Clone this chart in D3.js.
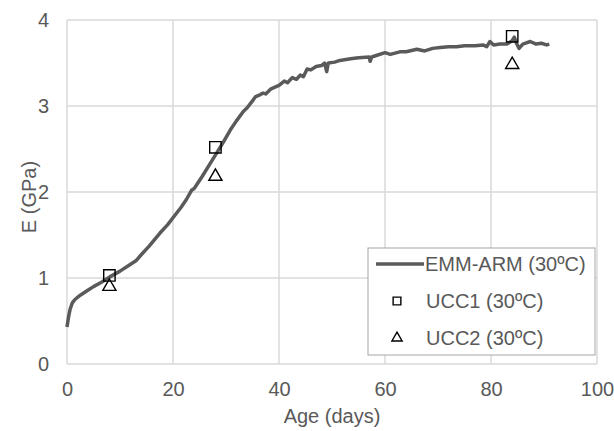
<!DOCTYPE html>
<html>
<head>
<meta charset="utf-8">
<script src="https://cdn.jsdelivr.net/npm/d3@7"></script>
<style>
    body { margin: 0; background: #fff; }
    #chart-area { width: 614px; height: 431px; }
    text { font-family: "Liberation Sans", Arial, sans-serif; fill: #595959; }
</style>
</head>
<body>
<div id="chart-area"></div>
<script>

// EMM-ARM curve
let emmDays = [0, 0.3, 0.6, 1.0, 1.5, 2.5, 4, 5, 6.5, 8, 10, 12, 13, 14, 15.5, 17.5, 19, 20, 21.5, 22.5,
    23.5, 24, 25.5, 27, 28.2, 29.5, 30.8, 32, 33.3, 34, 35, 35.6, 36.4, 37, 37.5, 38.5, 40, 41, 41.6, 42.5,
    43.3, 44, 44.6, 45.3, 46, 47, 48, 48.6, 49.0, 49.3, 50.5, 51.5, 53.5, 55, 57, 57.2, 57.5, 58.5, 60, 61,
    62.8, 64, 66, 67.5, 69, 70.4, 72, 73.5, 75, 77, 78.5, 79.2, 79.8, 80.5, 81.7, 83, 84.0, 84.4, 84.8, 85.3,
    86, 87.4, 88.5, 89.5, 90.5, 91];
let emmE = [0.43, 0.55, 0.64, 0.71, 0.75, 0.80, 0.86, 0.90, 0.95, 1.01, 1.08, 1.16, 1.20, 1.27, 1.37, 1.52, 1.62, 1.70, 1.82, 1.91,
    2.02, 2.04, 2.18, 2.33, 2.45, 2.58, 2.72, 2.83, 2.94, 2.98, 3.06, 3.11, 3.13, 3.15, 3.14, 3.20, 3.24, 3.29, 3.27, 3.33,
    3.31, 3.36, 3.34, 3.43, 3.42, 3.46, 3.47, 3.50, 3.40, 3.50, 3.51, 3.53, 3.55, 3.56, 3.57, 3.52, 3.57, 3.59, 3.62, 3.60,
    3.63, 3.63, 3.66, 3.64, 3.67, 3.68, 3.69, 3.69, 3.70, 3.70, 3.71, 3.69, 3.75, 3.71, 3.72, 3.72, 3.76, 3.80, 3.73, 3.67,
    3.72, 3.75, 3.72, 3.73, 3.71, 3.72];

// UCC test points
let uccDays = [8, 28, 84];
let ucc1E = [1.03, 2.52, 3.81];
let ucc2E = [0.90, 2.18, 3.48];

let xTicks = [0, 20, 40, 60, 80, 100];
let yTicks = [0, 1, 2, 3, 4];

let legendLabels = ["EMM-ARM (30ºC)", "UCC1 (30ºC)", "UCC2 (30ºC)"];


class LineChart {

    constructor(parentElement) {
        this.parentElement = parentElement;
        this.lineColor = '#5a5a5a';
        this.gridColor = '#d9d9d9';
        this.fontSize = '20px';

        this.initVis()
    }

    initVis() {
        let vis = this;

        // margin conventions
        vis.margin = {top: 20, right: 17, bottom: 67, left: 67};
        vis.width = 614 - vis.margin.left - vis.margin.right;
        vis.height = 431 - vis.margin.top - vis.margin.bottom;

        vis.svg = d3.select("#" + vis.parentElement).append("svg")
            .attr("width", 614)
            .attr("height", 431)
            .append("g")
            .attr("transform", "translate(" + vis.margin.left + "," + vis.margin.top + ")");

        vis.x = d3.scaleLinear().domain([0, 100]).range([0, vis.width]);
        vis.y = d3.scaleLinear().domain([0, 4]).range([vis.height, 0]);

        // grid lines
        vis.svg.append('g')
            .attr('class', 'grid')
            .selectAll('line.v')
            .data(xTicks)
            .enter().append('line')
            .attr('x1', d => vis.x(d)).attr('x2', d => vis.x(d))
            .attr('y1', 0).attr('y2', vis.height)
            .attr('stroke', vis.gridColor)
            .attr('stroke-width', 1.5);

        vis.svg.append('g')
            .attr('class', 'grid')
            .selectAll('line.h')
            .data(yTicks)
            .enter().append('line')
            .attr('x1', 0).attr('x2', vis.width)
            .attr('y1', d => vis.y(d)).attr('y2', d => vis.y(d))
            .attr('stroke', vis.gridColor)
            .attr('stroke-width', 1.5);

        // axes (labels only, lines are the grid)
        let xAxis = d3.axisBottom(vis.x).tickValues(xTicks).tickSize(0).tickPadding(18).tickFormat(d3.format('d'));
        let yAxis = d3.axisLeft(vis.y).tickValues(yTicks).tickSize(0).tickPadding(18).tickFormat(d3.format('d'));

        vis.svg.append('g')
            .attr('class', 'x-axis')
            .attr('transform', `translate(0, ${vis.height})`)
            .call(xAxis)
            .call(g => g.select('.domain').remove())
            .selectAll('text')
            .style('font-size', vis.fontSize)
            .style('fill', '#595959');

        vis.svg.append('g')
            .attr('class', 'y-axis')
            .call(yAxis)
            .call(g => g.select('.domain').remove())
            .selectAll('text')
            .style('font-size', vis.fontSize)
            .style('fill', '#595959');

        // axis titles
        vis.svg.append('text')
            .attr('x', vis.width / 2)
            .attr('y', vis.height + 59)
            .attr('text-anchor', 'middle')
            .style('font-size', vis.fontSize)
            .text('Age (days)');

        vis.svg.append('text')
            .attr('transform', `translate(${-31}, ${vis.height / 2 + 5}) rotate(-90)`)
            .attr('text-anchor', 'middle')
            .style('font-size', vis.fontSize)
            .text('E (GPa)');

        vis.wrangleData();
    }

    wrangleData() {
        let vis = this;

        vis.curveData = emmDays.map((d, i) => ({day: d, e: emmE[i]}));
        vis.ucc1Data = uccDays.map((d, i) => ({day: d, e: ucc1E[i]}));
        vis.ucc2Data = uccDays.map((d, i) => ({day: d, e: ucc2E[i]}));

        vis.updateVis();
    }

    updateVis() {
        let vis = this;

        let line = d3.line()
            .x(d => vis.x(d.day))
            .y(d => vis.y(d.e));

        vis.svg.append('path')
            .datum(vis.curveData)
            .attr('d', line)
            .attr('fill', 'none')
            .attr('stroke', vis.lineColor)
            .attr('stroke-width', 3.5)
            .attr('stroke-linejoin', 'round');

        let square = d3.symbol().type(d3.symbolSquare).size(130);
        let triangle = d3.symbol().type(d3.symbolTriangle).size(75);

        vis.svg.selectAll('.ucc1')
            .data(vis.ucc1Data)
            .enter().append('path')
            .attr('class', 'ucc1')
            .attr('d', square)
            .attr('transform', d => `translate(${vis.x(d.day)}, ${vis.y(d.e)})`)
            .attr('fill', 'none')
            .attr('stroke', '#000')
            .attr('stroke-width', 1.4);

        vis.svg.selectAll('.ucc2')
            .data(vis.ucc2Data)
            .enter().append('path')
            .attr('class', 'ucc2')
            .attr('d', triangle)
            .attr('transform', d => `translate(${vis.x(d.day)}, ${vis.y(d.e)})`)
            .attr('fill', 'none')
            .attr('stroke', '#000')
            .attr('stroke-width', 1.4);

        // legend
        vis.legend = vis.svg.append('g')
            .attr('class', 'legend')
            .attr('transform', `translate(${368 - vis.margin.left}, ${248 - vis.margin.top})`);

        vis.legend.append('rect')
            .attr('width', 227)
            .attr('height', 107)
            .attr('fill', '#fff')
            .attr('stroke', '#a6a6a6')
            .attr('stroke-width', 1);

        vis.legend.append('line')
            .attr('x1', 8).attr('x2', 56)
            .attr('y1', 16).attr('y2', 16)
            .attr('stroke', vis.lineColor)
            .attr('stroke-width', 3.5);

        vis.legend.append('path')
            .attr('d', d3.symbol().type(d3.symbolSquare).size(60))
            .attr('transform', 'translate(29, 53)')
            .attr('fill', 'none')
            .attr('stroke', '#000')
            .attr('stroke-width', 1.4);

        vis.legend.append('path')
            .attr('d', d3.symbol().type(d3.symbolTriangle).size(45))
            .attr('transform', 'translate(29, 90)')
            .attr('fill', 'none')
            .attr('stroke', '#000')
            .attr('stroke-width', 1.4);

        vis.legend.selectAll('.legend-label')
            .data(legendLabels)
            .enter().append('text')
            .attr('class', 'legend-label')
            .attr('x', (d, i) => i === 0 ? 57 : 58)
            .attr('y', (d, i) => 23 + i * 37)
            .style('font-size', vis.fontSize)
            .text(d => d);
    }
}

let chart = new LineChart('chart-area');

</script>
</body>
</html>
